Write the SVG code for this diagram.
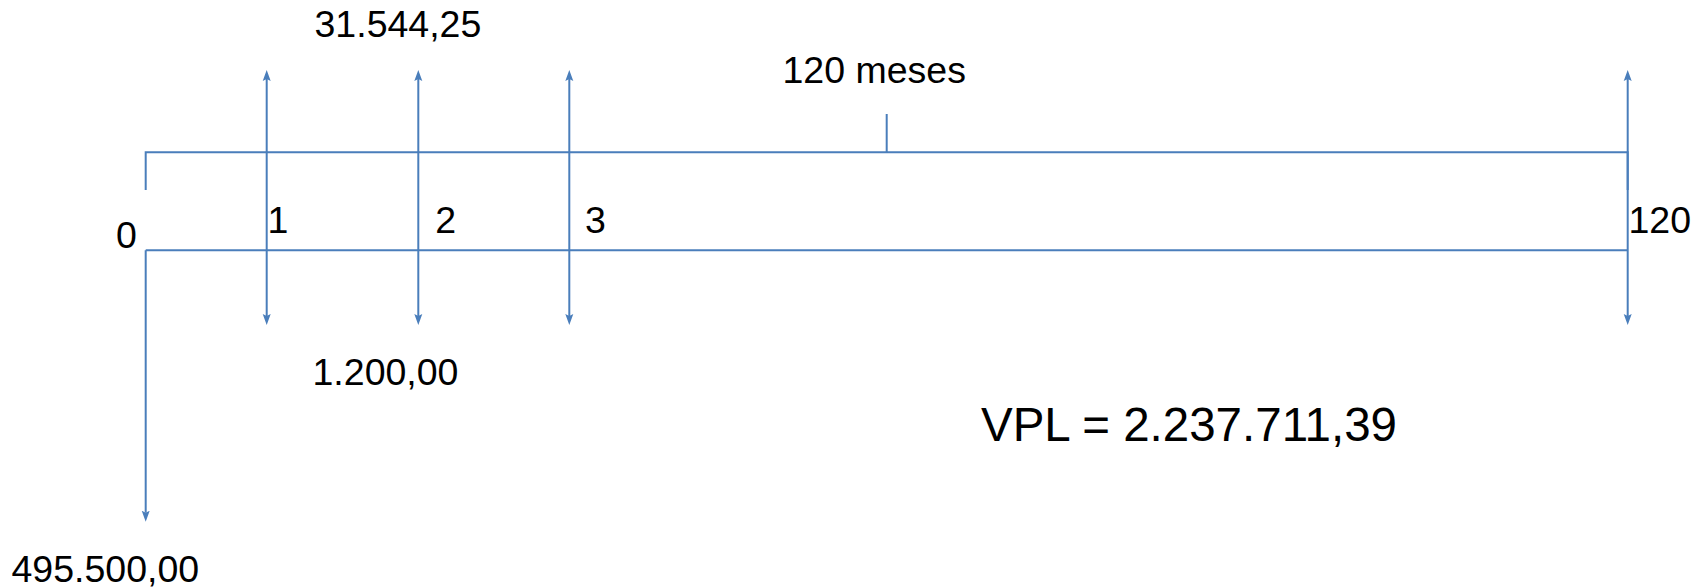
<svg xmlns="http://www.w3.org/2000/svg" width="1701" height="587" viewBox="0 0 1701 587">
  <style>
    .ln { fill: none; stroke: #4a7ebb; stroke-width: 2; }
    .t { font-family: "Liberation Sans", Arial, sans-serif; font-size: 37.5px; fill: #000; }
    .big { font-size: 47.5px; }
  </style>
  <defs>
    <marker id="arr" markerUnits="userSpaceOnUse" markerWidth="14" markerHeight="10" viewBox="0 -5 14 10" refX="2" refY="0" orient="auto-start-reverse">
      <path d="M0,-4 L11,0 L0,4 L2,0 Z" fill="#4a7ebb"/>
    </marker>
  </defs>

  <!-- timeline frame and axis -->
  <g id="connectors">
    <path class="ln" d="M145.7,190 V152.3 H1627.7 V190"/>
    <path class="ln" d="M886.7,114 V152.3"/>
    <path class="ln" d="M145.7,250.3 H1627.7"/>
    <path class="ln" d="M145.7,250.3 V512.7" marker-end="url(#arr)"/>
    <path class="ln" d="M266.7,79 V316" marker-start="url(#arr)" marker-end="url(#arr)"/>
    <path class="ln" d="M418.3,79 V316" marker-start="url(#arr)" marker-end="url(#arr)"/>
    <path class="ln" d="M569.3,79 V316" marker-start="url(#arr)" marker-end="url(#arr)"/>
    <path class="ln" d="M1627.7,79 V316" marker-start="url(#arr)" marker-end="url(#arr)"/>
  </g>

  <!-- period labels -->
  <g id="period-0"><text class="t" x="116" y="248">0</text></g>
  <g id="period-1"><text class="t" x="267.5" y="233">1</text></g>
  <g id="period-2"><text class="t" x="435.3" y="233">2</text></g>
  <g id="period-3"><text class="t" x="585" y="233">3</text></g>
  <g id="period-120"><text class="t" x="1628.5" y="233">120</text></g>
  <g id="horizon"><text class="t" x="782.5" y="82.7">120 meses</text></g>

  <!-- cash flow values -->
  <g id="inflow"><text class="t" x="314.5" y="36.7">31.544,25</text></g>
  <g id="outflow"><text class="t" x="312.5" y="385">1.200,00</text></g>
  <g id="investment"><text class="t" x="11.5" y="581.7">495.500,00</text></g>
  <g id="npv"><text class="t big" x="981" y="441">VPL = 2.237.711,39</text></g>
</svg>
